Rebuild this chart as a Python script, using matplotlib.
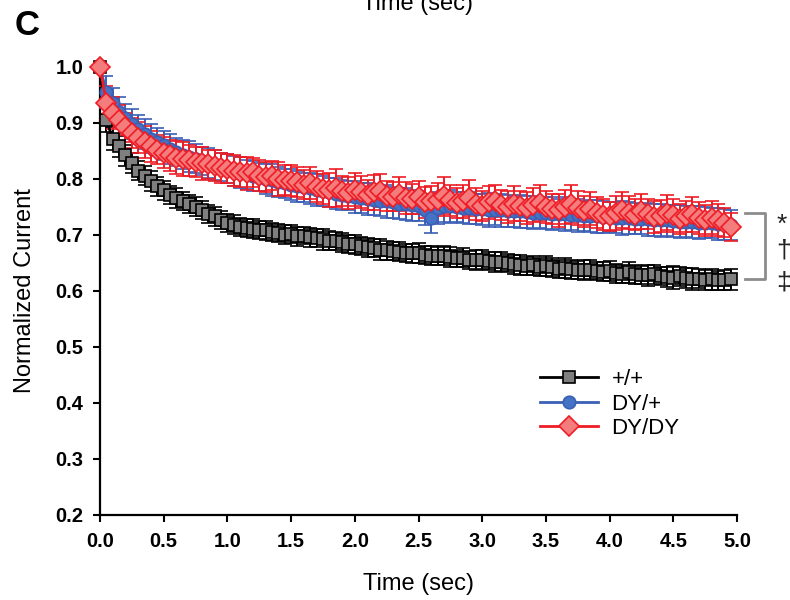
import numpy as np
import matplotlib.pyplot as plt

plt.rcParams['font.family'] = ['Liberation Sans', 'DejaVu Sans']

# sampling every 50 ms
time_s = np.arange(100) * 0.05

wt_mean = [
    1.000, 0.905, 0.872, 0.858, 0.842, 0.828, 0.815, 0.806, 0.796, 0.787,
    0.780, 0.772, 0.766, 0.760, 0.756, 0.750, 0.745, 0.738, 0.733, 0.727,
    0.722, 0.718, 0.714, 0.712, 0.711, 0.709, 0.708, 0.706, 0.703, 0.700,
    0.701, 0.698, 0.699, 0.696, 0.694, 0.692, 0.690, 0.689, 0.687, 0.684,
    0.683, 0.681, 0.678, 0.676, 0.674, 0.673, 0.672, 0.670, 0.668, 0.667,
    0.668, 0.664, 0.663, 0.662, 0.663, 0.660, 0.658, 0.659, 0.656, 0.655,
    0.656, 0.654, 0.651, 0.652, 0.650, 0.648, 0.647, 0.645, 0.646, 0.643,
    0.644, 0.642, 0.640, 0.641, 0.639, 0.638, 0.637, 0.638, 0.636, 0.634,
    0.635, 0.632, 0.631, 0.633, 0.630, 0.629, 0.628, 0.630, 0.627, 0.625,
    0.624, 0.626, 0.623, 0.621, 0.622, 0.620, 0.621, 0.619, 0.620, 0.621,
]
wt_sem = [
    0.000, 0.022, 0.020, 0.019, 0.018, 0.018, 0.017, 0.017, 0.018, 0.017,
    0.017, 0.016, 0.017, 0.016, 0.016, 0.017, 0.016, 0.016, 0.017, 0.016,
    0.016, 0.017, 0.016, 0.016, 0.017, 0.016, 0.017, 0.016, 0.016, 0.017,
    0.016, 0.017, 0.016, 0.017, 0.016, 0.018, 0.017, 0.016, 0.017, 0.016,
    0.017, 0.016, 0.017, 0.016, 0.018, 0.017, 0.016, 0.017, 0.016, 0.017,
    0.018, 0.016, 0.017, 0.016, 0.017, 0.018, 0.016, 0.017, 0.016, 0.018,
    0.017, 0.016, 0.018, 0.017, 0.016, 0.017, 0.018, 0.016, 0.017, 0.016,
    0.018, 0.017, 0.016, 0.018, 0.017, 0.016, 0.018, 0.017, 0.016, 0.017,
    0.018, 0.017, 0.016, 0.018, 0.017, 0.016, 0.019, 0.017, 0.016, 0.018,
    0.020, 0.017, 0.018, 0.020, 0.017, 0.018, 0.019, 0.017, 0.018, 0.019,
]

het_mean = [
    1.000, 0.955, 0.935, 0.920, 0.908, 0.898, 0.889, 0.880, 0.872, 0.866,
    0.860, 0.854, 0.848, 0.843, 0.840, 0.836, 0.832, 0.828, 0.825, 0.822,
    0.818, 0.814, 0.811, 0.808, 0.805, 0.803, 0.800, 0.798, 0.795, 0.792,
    0.790, 0.787, 0.785, 0.783, 0.780, 0.778, 0.776, 0.774, 0.772, 0.770,
    0.768, 0.766, 0.764, 0.763, 0.761, 0.760, 0.758, 0.756, 0.755, 0.753,
    0.752, 0.745, 0.730, 0.748, 0.752, 0.751, 0.750, 0.749, 0.748, 0.747,
    0.746, 0.745, 0.745, 0.744, 0.743, 0.742, 0.742, 0.741, 0.740, 0.739,
    0.739, 0.738, 0.737, 0.737, 0.736, 0.735, 0.734, 0.734, 0.733, 0.732,
    0.732, 0.731, 0.730, 0.730, 0.729, 0.728, 0.728, 0.727, 0.726, 0.726,
    0.725, 0.724, 0.724, 0.723, 0.722, 0.722, 0.721, 0.720, 0.719, 0.718,
]
het_sem = [
    0.000, 0.028, 0.027, 0.026, 0.026, 0.027, 0.026, 0.027, 0.026, 0.025,
    0.026, 0.027, 0.025, 0.026, 0.027, 0.026, 0.025, 0.027, 0.026, 0.025,
    0.026, 0.027, 0.028, 0.026, 0.027, 0.025, 0.026, 0.028, 0.027, 0.026,
    0.027, 0.028, 0.026, 0.027, 0.029, 0.027, 0.026, 0.028, 0.027, 0.026,
    0.028, 0.027, 0.029, 0.028, 0.027, 0.030, 0.028, 0.027, 0.029, 0.028,
    0.027, 0.028, 0.026, 0.029, 0.028, 0.030, 0.027, 0.028, 0.029, 0.027,
    0.028, 0.030, 0.027, 0.029, 0.028, 0.027, 0.030, 0.028, 0.029, 0.027,
    0.028, 0.029, 0.027, 0.030, 0.028, 0.029, 0.027, 0.028, 0.030, 0.029,
    0.027, 0.028, 0.030, 0.029, 0.028, 0.027, 0.029, 0.028, 0.030, 0.027,
    0.028, 0.029, 0.027, 0.028, 0.030, 0.028, 0.027, 0.029, 0.028, 0.027,
]

hom_mean = [
    1.000, 0.936, 0.918, 0.905, 0.892, 0.882, 0.874, 0.866, 0.858, 0.852,
    0.847, 0.842, 0.838, 0.836, 0.833, 0.830, 0.828, 0.826, 0.824, 0.820,
    0.818, 0.815, 0.812, 0.810, 0.812, 0.806, 0.804, 0.806, 0.800, 0.798,
    0.797, 0.794, 0.790, 0.793, 0.786, 0.782, 0.780, 0.784, 0.778, 0.775,
    0.781, 0.777, 0.772, 0.776, 0.779, 0.770, 0.768, 0.773, 0.766, 0.764,
    0.767, 0.758, 0.760, 0.763, 0.770, 0.762, 0.757, 0.760, 0.766, 0.755,
    0.752, 0.758, 0.761, 0.754, 0.750, 0.756, 0.752, 0.748, 0.754, 0.757,
    0.750, 0.746, 0.744, 0.750, 0.755, 0.748, 0.742, 0.747, 0.740, 0.736,
    0.733, 0.739, 0.745, 0.740, 0.736, 0.742, 0.738, 0.732, 0.734, 0.740,
    0.735, 0.729, 0.733, 0.737, 0.730, 0.726, 0.731, 0.727, 0.722, 0.714,
]
hom_sem = [
    0.000, 0.030, 0.028, 0.027, 0.026, 0.026, 0.027, 0.028, 0.027, 0.026,
    0.028, 0.027, 0.029, 0.030, 0.028, 0.027, 0.029, 0.026, 0.028, 0.027,
    0.026, 0.028, 0.027, 0.029, 0.026, 0.028, 0.027, 0.026, 0.030, 0.027,
    0.028, 0.027, 0.026, 0.029, 0.028, 0.027, 0.030, 0.034, 0.027, 0.028,
    0.030, 0.028, 0.027, 0.031, 0.029, 0.027, 0.026, 0.030, 0.028, 0.027,
    0.029, 0.028, 0.027, 0.030, 0.033, 0.028, 0.027, 0.029, 0.032, 0.028,
    0.027, 0.030, 0.029, 0.027, 0.028, 0.031, 0.027, 0.028, 0.030, 0.032,
    0.028, 0.027, 0.029, 0.031, 0.034, 0.030, 0.028, 0.029, 0.027, 0.028,
    0.026, 0.030, 0.032, 0.029, 0.028, 0.031, 0.027, 0.028, 0.029, 0.032,
    0.030, 0.027, 0.028, 0.031, 0.029, 0.027, 0.030, 0.028, 0.026, 0.025,
]

groups = ['+/+', 'DY/+', 'DY/DY']
x_ticks = [0.0, 0.5, 1.0, 1.5, 2.0, 2.5, 3.0, 3.5, 4.0, 4.5, 5.0]
y_ticks = [0.2, 0.3, 0.4, 0.5, 0.6, 0.7, 0.8, 0.9, 1.0]

fig = plt.figure(figsize=(7.9, 6.0), dpi=100)
ax = fig.add_axes([0.1266, 0.1417, 0.8063, 0.7467])

series = [
    (wt_mean, wt_sem, 's', 9, '#000000', '#7f7f7f', '#000000'),
    (het_mean, het_sem, 'o', 9, '#3a5fb5', '#4472c4', '#3a5fb5'),
    (hom_mean, hom_sem, 'D', 10, '#ee1c25', '#f47c7c', '#ee1c25'),
]
handles = []
for (m, s, mk, ms, lc, fc, ec), name in zip(series, groups):
    eb = ax.errorbar(time_s, m, yerr=s, fmt='-', marker=mk, ms=ms,
                     color=lc, mfc=fc, mec=ec, mew=1.2, lw=2,
                     ecolor=lc, elinewidth=1.4, capsize=5, capthick=1.4,
                     clip_on=False, zorder=3, label=name)
    handles.append(eb[0])

ax.set_xlim(0, 5.0)
ax.set_ylim(0.2, 1.0)
ax.set_xticks(x_ticks)
ax.set_yticks(y_ticks)
ax.set_xticklabels([f'{v:.1f}' for v in x_ticks], fontsize=14.5, fontweight='bold')
ax.set_yticklabels([f'{v:.1f}' for v in y_ticks], fontsize=14.5, fontweight='bold')
ax.tick_params(direction='out', length=5, width=1.5, pad=7)
for side in ['top', 'right']:
    ax.spines[side].set_visible(False)
for side in ['left', 'bottom']:
    ax.spines[side].set_linewidth(1.6)

ax.set_xlabel('Time (sec)', fontsize=17, labelpad=16)
ax.set_ylabel('Normalized Current', fontsize=17, labelpad=14)

ax.legend(handles=handles, labels=groups, loc='upper left',
          bbox_to_anchor=(0.66, 0.37), frameon=False, fontsize=16,
          handlelength=2.6, handletextpad=0.6, labelspacing=0.15)

# significance bracket at the end of the traces
ax.plot([5.06, 5.22, 5.22, 5.06], [0.739, 0.739, 0.621, 0.621],
        color='#8c8c8c', lw=2, clip_on=False)
for sym, yy in zip(['*', '\u2020', '\u2021'], [0.718, 0.673, 0.616]):
    ax.text(5.31, yy, sym, fontsize=19, va='center', ha='left',
            clip_on=False, color='#222222')

fig.text(0.019, 0.958, 'C', fontsize=25, fontweight='bold', va='center')
fig.text(0.529, 0.993, 'Time (sec)', fontsize=17, ha='center', va='center')

fig.savefig('out.png', dpi=100)
